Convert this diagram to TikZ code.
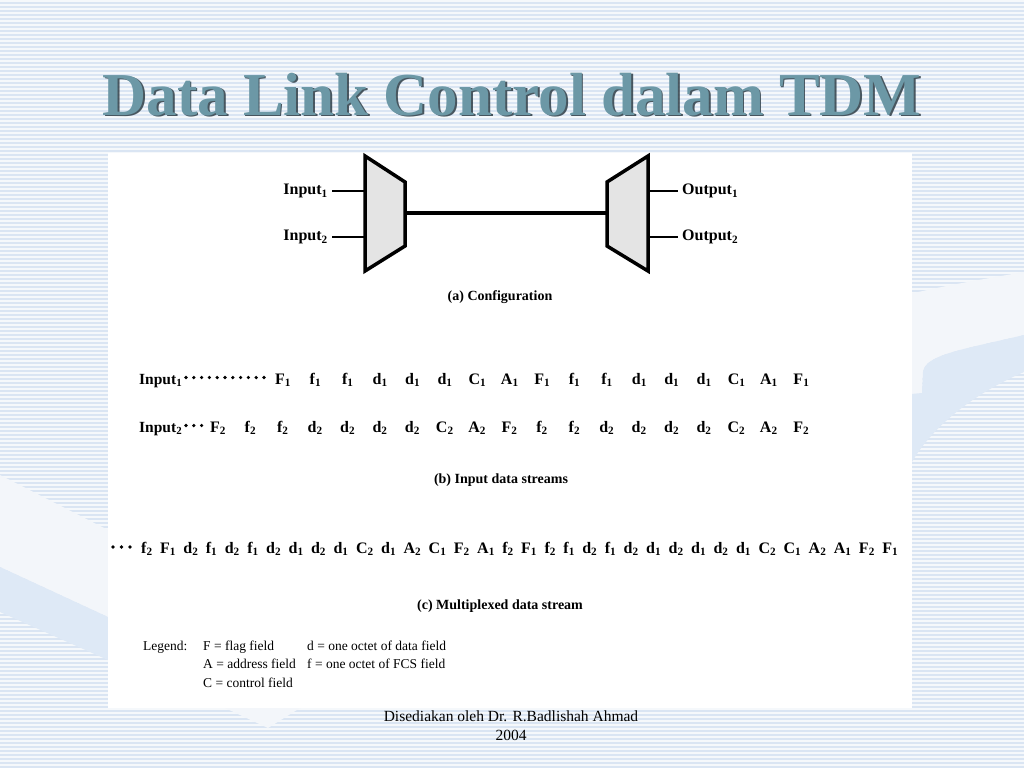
\documentclass[tikz,border=0pt]{standalone}
\usepackage{fontspec}
\setmainfont{Liberation Serif}
\definecolor{bgblue}{RGB}{218,229,243}
\definecolor{swwhite}{RGB}{243,246,250}
\definecolor{swblue}{RGB}{222,233,246}
\definecolor{titlecol}{RGB}{108,152,166}
\definecolor{titleshadow}{RGB}{45,60,70}
\definecolor{muxfill}{RGB}{228,228,228}
\newcommand\mxitem[2]{#1\textsubscript{#2}\hfil}
\begin{document}
\begin{tikzpicture}[x=1pt,y=-1pt,
  lbl/.style={font=\fontsize{16}{16}\selectfont\bfseries, inner sep=4pt},
  item/.style={font=\fontsize{16}{16}\selectfont\bfseries, inner sep=0pt, anchor=base},
  rowlbl/.style={font=\fontsize{15.5}{15.5}\selectfont\bfseries, inner sep=0pt, anchor=base west},
  capt/.style={font=\fontsize{14}{14}\selectfont\bfseries, inner sep=0pt, anchor=base},
  leg/.style={font=\fontsize{13.5}{13.5}\selectfont, inner sep=0pt, anchor=base west},
  foot/.style={font=\fontsize{15.5}{15.5}\selectfont, inner sep=0pt, anchor=base},
  ttl/.style={font=\fontsize{61}{61}\selectfont\bfseries, inner sep=0pt, anchor=base},
  muxbox/.style={draw=black, fill=muxfill, line width=3.5pt, line join=miter},
  thinwire/.style={draw=black, line width=2pt},
  trunk/.style={draw=black, line width=4pt},
  dotmark/.style={fill=black}]
\useasboundingbox (0,0) rectangle (1024,768);
% background
\fill[bgblue] (0,0) rectangle (1024,768);
\foreach \k in {0,...,191} \draw[white, line width=1.6pt, opacity=.75] (0,\k*4+1) -- (1024,\k*4+1);
% swooshes
\fill[swwhite] (0,475) -- (108,530) -- (108,617) -- (0,567) -- cycle;
\fill[swblue] (0,567) -- (108,617) -- (108,660) -- (0,612) -- cycle;
\fill[swwhite] (900,296) .. controls (950,285) .. (1024,272) -- (1024,335) .. controls (960,350) and (925,355) .. (923,372) -- (922,393) -- (900,395) -- cycle;
\fill[swblue] (1024,335) -- (1024,372) .. controls (970,395) and (930,430) .. (912,462) -- (900,462) -- (900,395) -- (922,393) -- (923,372) .. controls (925,355) and (960,350) .. (1024,335) -- cycle;
\fill[swwhite] (225,708) -- (300,708) -- (268,728) -- cycle;
% white panel
\fill[white] (108,153) rectangle (912,708);
% title
\node[ttl, text=titleshadow, opacity=.85] (titleshade) at (513.8,116.8) {Data Link Control dalam TDM};
\node[ttl, text=titlecol] (title) at (512,115) {Data Link Control dalam TDM};
% (a) configuration
\draw[muxbox] (365,156) -- (405,182) -- (405,246) -- (365,271) -- cycle;
\draw[muxbox] (648,156) -- (607,182) -- (607,246) -- (648,271) -- cycle;
\coordinate (mux1) at (365,191);
\coordinate (mux2) at (365,237);
\coordinate (muxout) at (405,213);
\coordinate (demuxin) at (607,213);
\coordinate (dem1) at (648,191);
\coordinate (dem2) at (648,237);
\node[lbl, anchor=east] (in1) at (332,191) {Input\textsubscript{1}};
\node[lbl, anchor=east] (in2) at (332,237) {Input\textsubscript{2}};
\node[lbl, anchor=west] (out1) at (678,191) {Output\textsubscript{1}};
\node[lbl, anchor=west] (out2) at (678,237) {Output\textsubscript{2}};
\draw[thinwire] (in1) -- (mux1);
\draw[thinwire] (in2) -- (mux2);
\draw[thinwire] (dem1) -- (out1);
\draw[thinwire] (dem2) -- (out2);
\draw[trunk] (muxout) -- (demuxin);
\node[capt] (capa) at (500,300) {(a) Configuration};
% (b) input streams
\node[rowlbl] (row1) at (139,384) {Input\textsubscript{1}};
\node[rowlbl] (row2) at (139,432) {Input\textsubscript{2}};
\foreach \k in {0,...,10} \fill[dotmark] ({186+7.8*\k},377.5) circle (1.8);
\foreach \k in {0,...,2} \fill[dotmark] ({186+7.8*\k},425.5) circle (1.8);
\foreach \s [count=\i from 0] in {F,f,f,d,d,d,C,A,F,f,f,d,d,d,C,A,F}
  \node[item] (ra\i) at ({283+32.4*\i},384) {\s\textsubscript{1}};
\foreach \s [count=\i from 0] in {F,f,f,d,d,d,d,C,A,F,f,f,d,d,d,d,C,A,F}
  \node[item] (rb\i) at ({218+32.4*\i},432) {\s\textsubscript{2}};
\node[capt] (capb) at (501,483) {(b) Input data streams};
% (c) multiplexed stream
\foreach \k in {0,...,2} \fill[dotmark] ({113+8.5*\k},547) circle (1.8);
\node[item, anchor=base west] (muxrow) at (141,553) {\hbox to 757pt{\mxitem{f}{2}\mxitem{F}{1}\mxitem{d}{2}\mxitem{f}{1}\mxitem{d}{2}\mxitem{f}{1}\mxitem{d}{2}\mxitem{d}{1}\mxitem{d}{2}\mxitem{d}{1}\mxitem{C}{2}\mxitem{d}{1}\mxitem{A}{2}\mxitem{C}{1}\mxitem{F}{2}\mxitem{A}{1}\mxitem{f}{2}\mxitem{F}{1}\mxitem{f}{2}\mxitem{f}{1}\mxitem{d}{2}\mxitem{f}{1}\mxitem{d}{2}\mxitem{d}{1}\mxitem{d}{2}\mxitem{d}{1}\mxitem{d}{2}\mxitem{d}{1}\mxitem{C}{2}\mxitem{C}{1}\mxitem{A}{2}\mxitem{A}{1}\mxitem{F}{2}F\textsubscript{1}}};
\node[capt] (capc) at (500,609) {(c) Multiplexed data stream};
% legend
\node[leg] (legend) at (143,650) {Legend:};
\node[leg] (legF) at (203,650) {F = flag field};
\node[leg] (legd) at (307,650) {d = one octet of data field};
\node[leg] (legA) at (203,668) {A = address field};
\node[leg] (legf) at (307,668) {f = one octet of FCS field};
\node[leg] (legC) at (203,687) {C = control field};
% footer
\node[foot] (foot1) at (511,721) {Disediakan oleh Dr. R.Badlishah Ahmad};
\node[foot] (foot2) at (511,740) {2004};
\end{tikzpicture}
\end{document}
